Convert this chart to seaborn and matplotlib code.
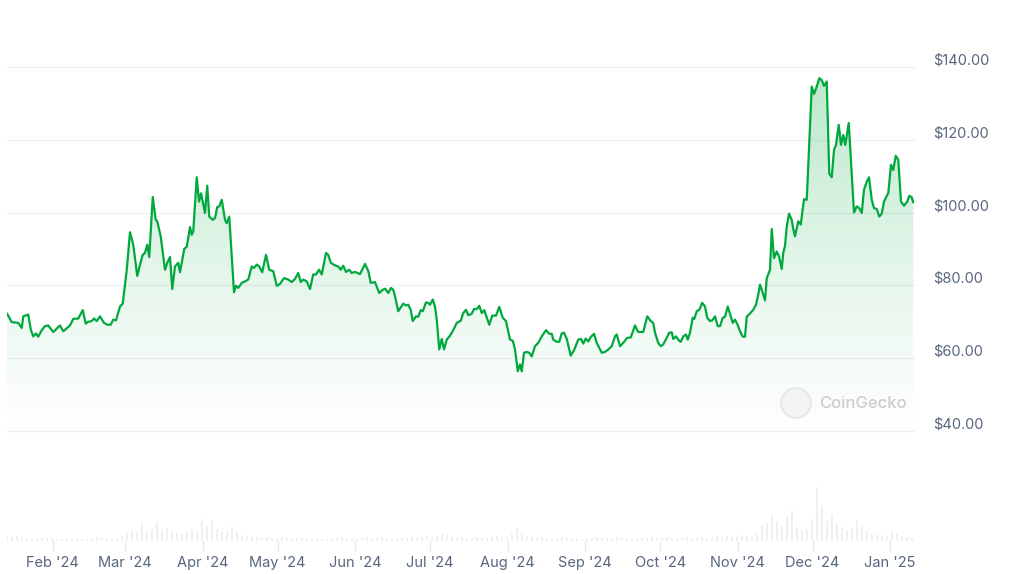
import numpy as np
import pandas as pd
import matplotlib
matplotlib.use("Agg")
import matplotlib.pyplot as plt
import matplotlib.dates as mdates
import seaborn as sns
from matplotlib.transforms import ScaledTranslation, IdentityTransform
from matplotlib.patches import Circle

# ---------------- data ----------------
start_date = pd.Timestamp("2024-01-13 18:00")
span_days = 363.2

price_days = [0.0, 1.9, 3.2, 4.5, 5.9, 6.5, 8.5, 9.5, 10.5, 11.6, 12.5, 13.9, 15.2, 16.5, 18.5, 21.2, 22.5, 25.2, 26.5, 28.5,
              30.3, 31.5, 32.5, 33.9, 34.8, 35.9, 37.2, 38.8, 40.1, 41.5, 42.5, 43.6, 45.2, 46.3, 47.9, 49.2, 50.5, 52.1, 53.2, 54.3,
              55.2, 56.1, 56.9, 58.3, 59.5, 60.1, 61.5, 63.2, 64.1, 65.2, 66.1, 67.2, 68.5, 69.2, 70.9, 71.9, 73.2, 73.9, 74.5, 75.9,
              76.8, 77.6, 78.3, 79.2, 80.1, 80.9, 82.3, 83.2, 84.1, 84.9, 85.9, 87.2, 87.9, 88.9, 90.8, 91.6, 92.5, 93.9, 95.2, 96.5,
              97.9, 98.8, 99.9, 100.9, 102.1, 103.6, 104.9, 106.5, 107.9, 109.2, 110.8, 112.5, 113.9, 115.2, 116.5, 117.5, 118.5, 119.9, 121.2, 122.5,
              123.6, 124.8, 125.9, 127.6, 128.5, 129.5, 131.2, 132.5, 133.5, 134.5, 135.6, 136.9, 137.9, 139.2, 141.2, 143.2, 144.5, 145.5, 147.2, 148.9,
              150.3, 151.3, 152.5, 153.6, 154.5, 155.2, 156.5, 158.5, 159.6, 160.5, 161.5, 162.3, 163.6, 164.5, 165.5, 166.3, 167.6, 168.5, 169.2, 170.3,
              171.2, 171.9, 172.9, 173.9, 174.8, 175.9, 177.2, 178.5, 179.9, 181.5, 182.5, 183.6, 184.5, 185.9, 186.8, 187.9, 188.9, 189.9, 190.9, 192.9,
              194.1, 195.6, 196.9, 198.3, 199.6, 201.2, 202.3, 203.2, 204.3, 205.2, 205.9, 206.8, 207.9, 208.9, 209.9, 211.2, 212.5, 213.9, 215.6, 216.9,
              217.9, 218.5, 219.9, 220.9, 221.9, 222.8, 223.9, 225.5, 226.8, 228.5, 229.6, 230.5, 231.5, 232.5, 233.5, 234.8, 235.9, 237.9, 239.2, 240.5,
              241.9, 243.2, 243.9, 245.2, 246.5, 248.1, 249.5, 251.2, 252.5, 254.5, 256.1, 257.5, 258.5, 259.2, 260.5, 261.5, 262.5, 263.9, 264.9, 265.9,
              266.5, 267.6, 268.7, 269.5, 270.5, 271.6, 272.3, 273.2, 274.3, 274.9, 275.9, 276.9, 278.1, 279.2, 280.1, 281.2, 282.1, 283.2, 284.3, 285.2,
              286.3, 287.2, 288.3, 289.2, 290.3, 291.2, 292.1, 293.2, 294.3, 295.2, 295.9, 297.2, 298.5, 299.6, 300.5, 301.2, 302.3, 303.2, 303.9, 304.5,
              305.2, 305.9, 306.8, 307.9, 308.8, 309.9, 310.5, 311.2, 311.9, 312.8, 313.9, 314.5, 315.2, 316.5, 317.5, 318.8, 319.9, 321.9, 322.8, 323.9,
              324.9, 325.9, 326.8, 327.9, 328.9, 329.9, 330.8, 331.6, 332.7, 333.6, 334.5, 335.3, 336.7, 338.8, 339.9, 340.9, 341.9, 342.8, 343.9, 344.8,
              345.9, 346.8, 347.9, 348.9, 349.9, 350.8, 351.9, 352.5, 353.6, 354.5, 355.5, 356.5, 357.6, 358.8, 360.1, 360.9, 361.9, 362.5]

price_values = [72.3, 69.9, 69.8, 69.7, 68.3, 71.5, 72.0, 67.9, 66.0, 66.8, 65.9, 67.7, 68.8, 69.0, 67.2, 69.0, 67.4, 69.0, 70.8, 70.9,
                73.2, 69.5, 70.0, 70.2, 70.9, 70.2, 71.5, 69.7, 69.2, 69.2, 70.6, 70.4, 74.2, 75.0, 84.3, 94.6, 91.2, 82.6, 85.7, 88.4,
                88.9, 91.2, 87.8, 104.3, 98.0, 97.6, 93.4, 84.3, 86.2, 87.8, 79.0, 85.2, 86.2, 83.6, 90.0, 90.6, 96.0, 93.9, 94.8, 109.7,
                103.0, 105.3, 103.0, 99.9, 107.4, 98.9, 98.0, 98.5, 101.5, 101.7, 103.5, 98.0, 97.1, 98.9, 78.1, 79.9, 79.3, 80.7, 81.1, 81.6,
                85.2, 84.8, 85.7, 85.2, 83.6, 88.4, 84.3, 83.9, 79.9, 80.4, 82.0, 81.6, 80.9, 81.8, 83.4, 80.9, 81.6, 81.1, 79.0, 83.0,
                83.0, 84.3, 83.0, 88.9, 88.4, 86.2, 85.5, 85.2, 84.3, 85.4, 83.7, 84.3, 83.4, 83.7, 83.1, 85.9, 84.0, 80.7, 80.9, 77.9,
                78.8, 79.1, 77.9, 79.3, 78.8, 77.0, 72.9, 75.0, 74.5, 74.7, 73.3, 70.2, 71.5, 71.4, 73.2, 72.9, 75.3, 75.2, 74.7, 76.1,
                74.2, 70.6, 62.4, 65.3, 62.4, 65.1, 66.2, 67.7, 69.7, 70.3, 72.4, 73.3, 71.8, 72.2, 73.5, 73.5, 74.4, 72.4, 73.2, 69.2,
                71.7, 71.7, 74.1, 71.1, 70.2, 65.1, 64.8, 62.4, 56.4, 58.3, 56.4, 61.5, 61.7, 61.5, 60.5, 63.3, 64.2, 66.0, 67.7, 66.7,
                66.7, 65.1, 64.5, 64.5, 66.8, 67.0, 65.3, 60.7, 62.2, 65.1, 65.3, 64.0, 65.4, 64.6, 65.8, 66.7, 64.2, 61.5, 61.7, 62.4,
                63.3, 66.0, 66.5, 63.3, 64.2, 65.6, 65.7, 69.0, 67.2, 67.2, 71.5, 70.2, 69.7, 67.0, 64.2, 63.3, 63.8, 65.6, 67.0, 67.1,
                65.3, 66.0, 64.9, 64.5, 66.0, 66.5, 65.1, 67.0, 71.1, 70.8, 72.9, 73.3, 75.2, 74.2, 71.1, 70.2, 70.4, 71.5, 68.8, 68.8,
                71.1, 71.4, 74.2, 72.2, 69.7, 70.6, 69.4, 67.4, 65.9, 65.9, 71.4, 72.3, 73.3, 74.7, 77.5, 80.2, 77.9, 75.9, 82.0, 83.0,
                84.3, 95.5, 87.5, 89.3, 88.0, 84.5, 88.9, 90.9, 96.2, 99.7, 98.0, 95.5, 93.5, 97.6, 96.7, 103.7, 103.5, 134.6, 132.6, 134.6,
                136.9, 136.4, 134.8, 136.0, 110.7, 109.7, 117.2, 118.6, 124.1, 118.6, 121.3, 118.6, 124.6, 100.0, 101.7, 101.2, 99.9, 106.3, 108.5, 109.7,
                103.5, 101.2, 101.0, 98.9, 99.7, 103.0, 104.6, 105.3, 113.1, 111.7, 115.6, 114.5, 103.0, 101.9, 103.0, 104.6, 104.2, 102.8]

assert len(price_days) == len(price_values), (len(price_days), len(price_values))

# volume, one value every 2 days (relative units, $M)
volume_step_days = 2
volume_values = [5, 4, 5, 4, 3, 4, 3, 3, 3, 3,
                 2, 3, 3, 2, 3, 3, 2, 3, 4, 3, 3, 4, 3,
                 5, 8, 11, 9, 17, 10, 12, 19, 11, 13, 9, 8, 7, 9, 12, 10, 22, 15, 20, 12, 9, 11, 14, 9, 6, 5, 4,
                 4, 3, 4, 3, 3, 4, 3, 2, 3, 3,
                 3, 4, 3, 3, 2, 3, 3, 4, 3, 3,
                 2, 3, 4, 3, 3, 4, 3, 3, 2, 3,
                 3, 4, 3, 4, 5, 4, 5, 8, 6, 4,
                 3, 4, 3, 3, 4, 3, 3, 4, 5, 4,
                 5, 8, 13, 7, 5, 4, 3, 4, 3, 3,
                 3, 4, 3, 3, 3, 2, 3, 3, 4, 3,
                 3, 3, 4, 3, 3, 4, 3, 3, 3, 4,
                 3, 3, 4, 3, 3, 3, 4, 3, 3, 4,
                 3, 4, 5, 4, 5, 4, 4,
                 6, 5, 4, 7, 15, 18, 25, 20, 16, 24, 30, 14, 10, 12, 22, 54, 35, 20, 26, 18,
                 14, 11, 13, 21, 15, 10, 7, 6, 5, 6, 9, 7, 5, 4, 3]

y_ticks = [40, 60, 80, 100, 120, 140]
y_tick_labels = ["$40.00", "$60.00", "$80.00", "$100.00", "$120.00", "$140.00"]
month_ticks = pd.date_range("2024-02-01", "2025-01-01", freq="MS")
month_labels = [d.strftime("%b '%y") for d in month_ticks]

# ---------------- style ----------------
sns.set_theme(style="white")
plt.rcParams["font.family"] = ["Inter", "DejaVu Sans"]
text_gray = "#58667e"
line_green = "#00a83e"
grid_gray = "#eef0f3"

W, H = 1024, 574
fig = plt.figure(figsize=(W / 100, H / 100), dpi=100, facecolor="white")
ax = fig.add_axes([7 / W, (H - 440) / H, 908 / W, 410 / H])
vax = fig.add_axes([7 / W, (H - 541) / H, 908 / W, 61 / H])

x0 = mdates.date2num(start_date)
x1 = mdates.date2num(start_date + pd.Timedelta(days=span_days))
ylo, yhi = 37.53, 150.15

df = pd.DataFrame({
    "t": mdates.date2num(start_date + pd.to_timedelta(price_days, unit="D")),
    "price": price_values,
})

# gradient fill under the line
poly = ax.fill_between(df["t"], df["price"], ylo, facecolor="none", edgecolor="none")
n = 300
yy = np.linspace(ylo, yhi, n)
frac = np.clip((yy - ylo) / (140 - ylo), 0, 1)
alpha = np.clip(0.27 * frac ** 1.15, 0, 0.30)
rgba = np.zeros((n, 2, 4))
rgba[..., 0] = 0 / 255
rgba[..., 1] = 168 / 255
rgba[..., 2] = 62 / 255
rgba[..., 3] = alpha[:, None]
im = ax.imshow(rgba, extent=[x0, x1, ylo, yhi], origin="lower", aspect="auto", zorder=1,
               interpolation="bilinear")
im.set_clip_path(poly.get_paths()[0], transform=ax.transData)

sns.lineplot(data=df, x="t", y="price", ax=ax, color=line_green, linewidth=1.6, zorder=3)

ax.set_xlim(x0, x1)
ax.set_ylim(ylo, yhi)
ax.set_xlabel("")
ax.set_ylabel("")
ax.set_xticks([])
ax.set_yticks(y_ticks)
ax.set_yticklabels(y_tick_labels)
ax.yaxis.tick_right()
ax.tick_params(axis="y", length=0, pad=13, labelsize=10.5, labelcolor=text_gray)
offset = ScaledTranslation(0, 8 / 100, fig.dpi_scale_trans)
for lab in ax.get_yticklabels():
    lab.set_transform(lab.get_transform() + offset)
ax.grid(axis="y", color=grid_gray, linewidth=1.0, zorder=0)
ax.grid(axis="x", visible=False)
for s in ax.spines.values():
    s.set_visible(False)

# volume bars
vol_t = x0 + np.arange(len(volume_values)) * volume_step_days
vax.bar(vol_t, volume_values, width=0.9, color="#eef0f4", linewidth=0, align="center")
vax.set_xlim(x0, x1)
vax.set_ylim(0, 61)
vax.set_yticks([])
vax.set_xticks(mdates.date2num(month_ticks))
vax.set_xticklabels(month_labels)
vax.tick_params(axis="x", length=7, width=1, color="#e6e9ec", pad=4, labelsize=10.5,
                labelcolor=text_gray, bottom=True)
for s in vax.spines.values():
    s.set_visible(False)
vax.set_facecolor("none")

# CoinGecko watermark
wm = Circle((796, H - 403), 15, transform=IdentityTransform(), facecolor="#f3f4f4",
            edgecolor="#e4e6e6", linewidth=1.2, zorder=5)
fig.patches.append(wm)
wm.set_figure(fig)
fig.text(819 / W, 1 - 403 / H, "CoinGecko", fontsize=12, color="#cbcdce", fontweight="medium",
         ha="left", va="center")

fig.savefig("out.png", dpi=100, facecolor="white")
